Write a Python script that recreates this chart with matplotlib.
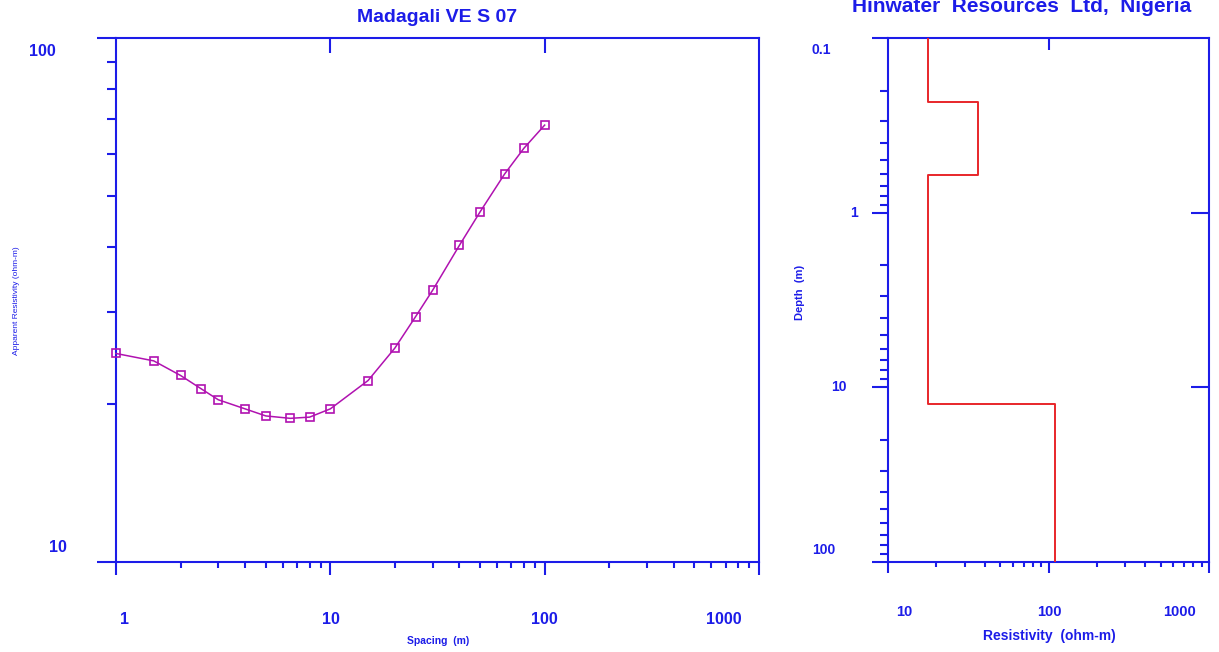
import numpy as np
import matplotlib.pyplot as plt
from matplotlib.ticker import LogLocator, NullFormatter, NullLocator

# sounding curve (AB/2 spacing vs apparent resistivity)
spacing = [1, 1.5, 2, 2.5, 3, 4, 5, 6.5, 8, 10, 15, 20, 25, 30, 40, 50, 65, 80, 100]
app_res = [25.0, 24.2, 22.7, 21.4, 20.4, 19.6, 19.0, 18.8, 18.9, 19.6,
           22.2, 25.6, 29.4, 33.0, 40.2, 46.6, 55.0, 61.6, 68.2]

# layered model
layer_res = [17.8, 36.4, 17.8, 110.0]
layer_top = [0.1, 0.232, 0.608, 12.4]
model_bottom = 100

left_xticks = [1, 10, 100, 1000]
left_yticks = [100, 10]
right_xticks = [10, 100, 1000]
right_yticks = [0.1, 1, 10, 100]

BLUE = '#1c1ce8'
MAG = '#b012b0'
RED = '#e8262a'

plt.rcParams['font.family'] = ['Liberation Sans', 'DejaVu Sans']

fig = plt.figure(figsize=(12.19, 6.52), dpi=100)
W, H = 1219, 652


def px_axes(x0, x1, y0, y1):
    return fig.add_axes([x0 / W, 1 - y1 / H, (x1 - x0) / W, (y1 - y0) / H])


def style(ax, xmaj_len, xmin_len, ymaj_len, ymin_len):
    for s in ax.spines.values():
        s.set_color(BLUE)
        s.set_linewidth(1.5)
    for axis in (ax.xaxis, ax.yaxis):
        axis.set_major_locator(LogLocator(base=10, numticks=10))
        axis.set_minor_locator(LogLocator(base=10, subs=np.arange(2, 10), numticks=20))
        axis.set_major_formatter(NullFormatter())
        axis.set_minor_formatter(NullFormatter())
    ax.tick_params(axis='x', which='major', direction='out', length=xmaj_len, width=1.5, color=BLUE)
    ax.tick_params(axis='x', which='minor', direction='out', length=xmin_len, width=1.5, color=BLUE)
    ax.tick_params(axis='y', which='major', direction='out', length=ymaj_len, width=1.5, color=BLUE)
    ax.tick_params(axis='y', which='minor', direction='out', length=ymin_len, width=1.5, color=BLUE)


def inner_ticks(ax, top_ticks, right_ticks, top_len, right_len):
    # short inward ticks on the top and right frame
    tx = ax.twiny()
    tx.set_xscale('log')
    tx.set_xlim(ax.get_xlim())
    tx.set_xticks(top_ticks)
    tx.xaxis.set_minor_locator(NullLocator())
    tx.tick_params(axis='x', direction='in', length=top_len, width=1.5, color=BLUE, labeltop=False)
    ty = ax.twinx()
    ty.set_yscale('log')
    ty.set_ylim(ax.get_ylim())
    ty.set_yticks(right_ticks)
    ty.yaxis.set_minor_locator(NullLocator())
    ty.tick_params(axis='y', direction='in', length=right_len, width=1.5, color=BLUE, labelright=False)
    for t in (tx, ty):
        t.patch.set_visible(False)
        for s in t.spines.values():
            s.set_visible(False)


def tick_text(ax, val, axis, dx, dy, size):
    if axis == 'x':
        xy, coords = (val, 0), ('data', 'axes fraction')
    else:
        xy, coords = (0, val), ('axes fraction', 'data')
    ax.annotate(f'{val:g}', xy=xy, xycoords=coords, xytext=(dx * 0.72, -dy * 0.72),
                textcoords='offset points', ha='center', va='center',
                fontsize=size, fontweight='bold', color=BLUE, annotation_clip=False)


# ---- left panel: sounding curve
ax = px_axes(116, 759, 38, 562)
ax.set_xscale('log')
ax.set_yscale('log')
ax.set_xlim(1, 1000)
ax.set_ylim(10, 100)
style(ax, 9.4, 4.3, 13.7, 6.5)
ax.plot(spacing, app_res, color=MAG, lw=1.1, marker='s', ms=5.5, mfc='none',
        mec=MAG, mew=1.2, clip_on=False, zorder=5)
inner_ticks(ax, [10, 100], [], 10.8, 13)

for v, dx in zip(left_xticks, [9, 1, 0, -35]):
    tick_text(ax, v, 'x', dx, 58, 11.5)
for v, dx, dy in zip(left_yticks, [-74, -58], [14, -14]):
    tick_text(ax, v, 'y', dx, dy, 11.5)

fig.text(437 / W, 1 - 18 / H, 'Madagali VE S 07', ha='center', va='center',
         fontsize=14, fontweight='bold', color=BLUE)
fig.text(438 / W, 1 - 641 / H, 'Spacing  (m)', ha='center', va='center',
         fontsize=7.5, fontweight='bold', color=BLUE)
fig.text(17 / W, 1 - 301 / H, 'Apparent Resistivity (ohm-m)', ha='center', va='center',
         rotation=90, fontsize=6, color=BLUE)

# ---- right panel: layered model
bx = px_axes(888, 1209, 38, 562)
bx.set_xscale('log')
bx.set_yscale('log')
bx.set_xlim(10, 1000)
bx.set_ylim(100, 0.1)
style(bx, 7.9, 3.6, 11.5, 5.8)
depths = layer_top + [model_bottom]
res_steps = layer_res + [layer_res[-1]]
bx.step(res_steps, depths, where='pre', color=RED, lw=1.4, zorder=5)
inner_ticks(bx, [100], [1, 10], 8.6, 13)

for v, dx in zip(right_xticks, [16, 1, -29]):
    tick_text(bx, v, 'x', dx, 50, 10.5)
for v, dx, dy in zip(right_yticks, [-67, -34, -49, -64], [12, 0, 0, -12]):
    tick_text(bx, v, 'y', dx, dy, 10)

fig.text(1049 / W, 1 - 636 / H, 'Resistivity  (ohm-m)', ha='center', va='center',
         fontsize=10, fontweight='bold', color=BLUE)
fig.text(800 / W, 1 - 292 / H, 'Depth  (m)', ha='center', va='center',
         rotation=90, fontsize=8, fontweight='bold', color=BLUE)
fig.text(1022 / W, 1 - 12 / H, 'Hinwater  Resources  Ltd,  Nigeria', ha='center',
         va='baseline', fontsize=15, fontweight='bold', color=BLUE)

fig.savefig('out.png', dpi=100)
